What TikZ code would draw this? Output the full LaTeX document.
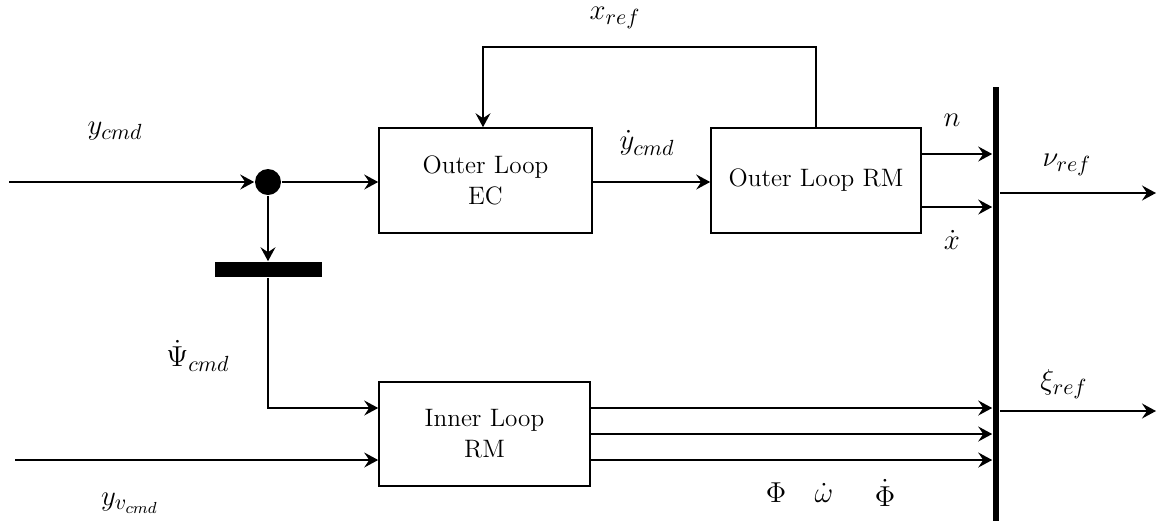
\documentclass[tikz,border=0pt]{standalone}
\usetikzlibrary{arrows.meta,positioning,calc}
\begin{document}
\begin{tikzpicture}[x=0.5pt,y=-0.5pt,
  line width=0.8pt,
  >={Stealth[length=7pt,width=7.5pt,inset=2.5pt]},
  blk/.style={draw,line width=0.8pt,font=\fontsize{12.6}{15.5}\selectfont,align=center,inner sep=0pt},
  lbl/.style={font=\fontsize{15.5}{18}\selectfont,inner sep=0pt}]
\useasboundingbox (0,0) rectangle (1158,521);
% blocks
\node[blk,minimum width=106.5pt,minimum height=52.5pt] (ec) at (485.5,180.5) {Outer Loop\\EC};
\node[blk,minimum width=105pt,minimum height=52.5pt] (orm) at (816,180.5) {Outer Loop RM};
\node[blk,minimum width=105.5pt,minimum height=52pt] (irm) at (484.5,434) {Inner Loop\\RM};
\node[circle,fill=black,minimum size=13pt,inner sep=0pt] (dot) at (268,182) {};
\node[rectangle,fill=black,minimum width=53.5pt,minimum height=7.5pt,inner sep=0pt] (bar) at (268,269.5) {};
\node[rectangle,fill=black,minimum width=3pt,minimum height=217pt,inner sep=0pt] (bus) at (996,304) {};
\coordinate (yin) at (9,182);
\coordinate (yvin) at (15,460);
\coordinate (nuout) at (1156,193);
\coordinate (xiout) at (1156,411);
\coordinate (o1) at ([yshift=13.25pt]orm.east);
\coordinate (o2) at ([yshift=-13.25pt]orm.east);
\coordinate (i1) at ([yshift=13pt]irm.east);
\coordinate (i2) at (irm.east);
\coordinate (i3) at ([yshift=-13pt]irm.east);
\coordinate (iw1) at ([yshift=13pt]irm.west);
\coordinate (iw2) at ([yshift=-13pt]irm.west);
\coordinate (fb) at (483,47);
% connectors
\draw[->] (yin) -- (dot.west);
\draw[->] (dot.east) -- (ec.west |- dot.east);
\draw[->] (dot.south) -- (bar.north);
\draw[->] (bar.south) |- (iw1);
\draw[->] (yvin) -- (iw2);
\draw[->] (ec.east |- dot.east) -- (orm.west |- dot.east);
\draw[->] (orm.north) |- (fb) -- (fb |- ec.north);
\draw[->] (o1) -- (bus.west |- o1);
\draw[->] (o2) -- (bus.west |- o2);
\draw[->] (i1) -- (bus.west |- i1);
\draw[->] (i2) -- (bus.west |- i2);
\draw[->] (i3) -- (bus.west |- i3);
\draw[->] (bus.east |- nuout) -- (nuout);
\draw[->] (bus.east |- xiout) -- (xiout);
% labels
\node[lbl] (l1) at (115,131) {$y_{cmd}$};
\node[lbl] (l2) at (615,18) {$x_{ref}$};
\node[lbl] (l3) at (647,143) {$\dot{y}_{cmd}$};
\node[lbl] (l4) at (952,120) {$n$};
\node[lbl] (l5) at (952,240) {$\dot{x}$};
\node[lbl] (l6) at (1067,165) {$\nu_{ref}$};
\node[lbl] (l7) at (198,356) {$\dot{\Psi}_{cmd}$};
\node[lbl] (l8) at (1064,384) {$\xi_{ref}$};
\node[lbl] (l9) at (130,503) {$y_{v_{cmd}}$};
\node[lbl] (l10) at (776,493) {$\Phi$};
\node[lbl] (l11) at (824,493) {$\dot{\omega}$};
\node[lbl] (l12) at (885,493) {$\dot{\Phi}$};
\end{tikzpicture}
\end{document}
